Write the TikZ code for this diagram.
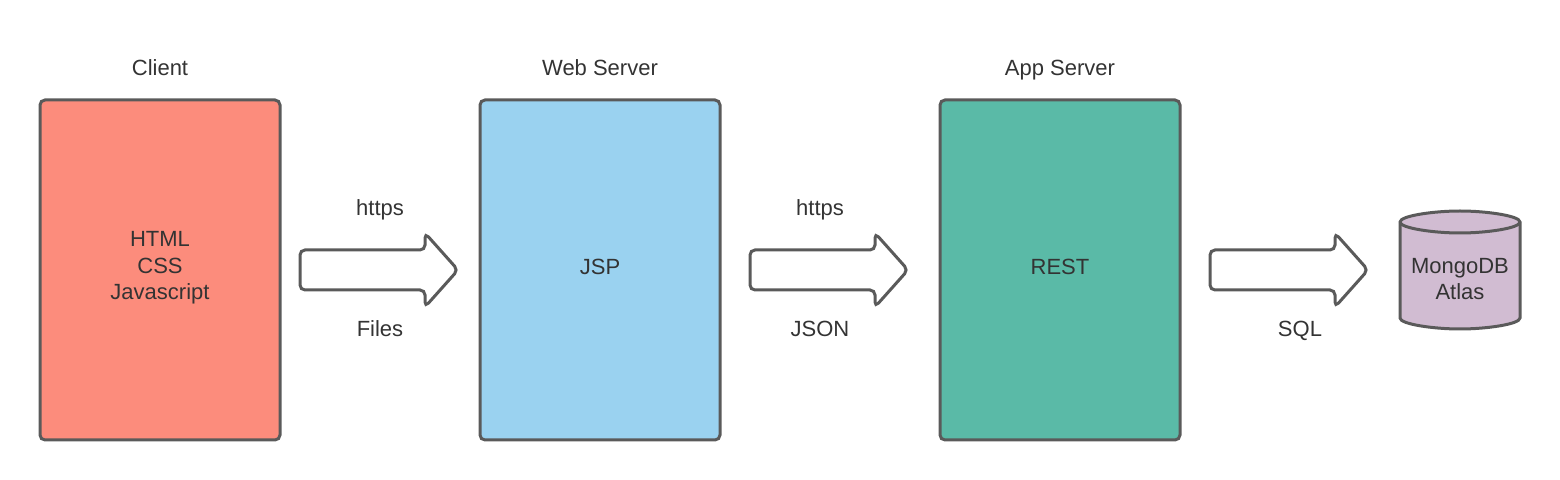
\documentclass[tikz,border=0pt]{standalone}
\usepackage{fontspec}
\setmainfont{Liberation Sans}
\definecolor{linegray}{HTML}{5A5A5A}
\definecolor{clientfill}{HTML}{FC8C7C}
\definecolor{webfill}{HTML}{9AD2F0}
\definecolor{appfill}{HTML}{5ABAA7}
\definecolor{dbfill}{HTML}{D1BCD2}
\definecolor{txt}{HTML}{333333}
\begin{document}
\begin{tikzpicture}[x=0.5pt,y=-0.5pt,
  tier/.style={draw=linegray,line width=1.5pt,rounded corners=2.5pt,minimum width=120pt,minimum height=170pt,inner sep=0pt},
  intext/.style={font=\fontsize{11pt}{13.25pt}\selectfont,text=txt,align=center,inner sep=0pt},
  lbl/.style={font=\fontsize{11pt}{13pt}\selectfont,text=txt,inner sep=0pt,anchor=base},
  blockarrow/.style={draw=linegray,line width=1.5pt,rounded corners=2.5pt,fill=white},
  dbline/.style={draw=linegray,line width=1.5pt}]
\useasboundingbox (0,0) rectangle (1560,480);
\node[tier,fill=clientfill] (client) at (160,270) {};
\node[tier,fill=webfill] (web) at (600,270) {};
\node[tier,fill=appfill] (app) at (1060,270) {};
\node[intext] (clientX) at (160,268) {HTML\\CSS\\Javascript};
\node[intext] (webX) at (600,267) {JSP};
\node[intext] (appX) at (1060,267) {REST};
\node[lbl] (clientT) at (160,76) {Client};
\node[lbl] (webT) at (600,76) {Web Server};
\node[lbl] (appT) at (1060,76) {App Server};
% block arrows
\foreach \x in {300,750,1210}{
  \draw[blockarrow] (\x,250) -- (\x+125,250) -- (\x+125,233) -- (\x+158,270) -- (\x+125,307) -- (\x+125,290) -- (\x,290) -- cycle;
}
\node[lbl] (h1) at (380,216) {https};
\node[lbl] (f1) at (380,337) {Files};
\node[lbl] (h2) at (820,216) {https};
\node[lbl] (j2) at (820,337) {JSON};
\node[lbl] (s3) at (1300,337) {SQL};
% database cylinder
\draw[dbline,fill=dbfill]
  (1400,222) -- (1400,318)
  .. controls (1400,324.1) and (1433.1,329) .. (1460,329)
  .. controls (1486.9,329) and (1520,324.1) .. (1520,318)
  -- (1520,222)
  .. controls (1520,215.9) and (1486.9,211) .. (1460,211)
  .. controls (1433.1,211) and (1400,215.9) .. (1400,222) -- cycle;
\draw[dbline] (1400,222)
  .. controls (1400,228.1) and (1433.1,233) .. (1460,233)
  .. controls (1486.9,233) and (1520,228.1) .. (1520,222);
\node[intext] (db) at (1460,279) {MongoDB\\Atlas};
\end{tikzpicture}
\end{document}
